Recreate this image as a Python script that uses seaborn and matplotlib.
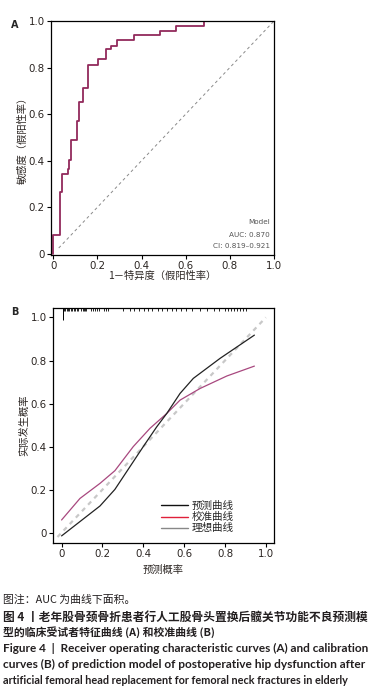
import numpy as np
import pandas as pd
import matplotlib
matplotlib.use("Agg")
import matplotlib.pyplot as plt
from matplotlib.lines import Line2D
import seaborn as sns

# ROC 曲线（阶梯点）
roc_fpr = [0.0, 0.0, 0.033, 0.041, 0.065, 0.073, 0.082, 0.106, 0.116, 0.136, 0.159,
           0.204, 0.239, 0.261, 0.290, 0.366, 0.483, 0.554, 0.683, 1.0]
roc_tpr = [0.0, 0.080, 0.264, 0.345, 0.365, 0.405, 0.489, 0.570, 0.654, 0.714, 0.813,
           0.835, 0.878, 0.894, 0.917, 0.938, 0.955, 0.977, 1.0, 1.0]
auc_text = ["Model", "AUC: 0.870", "CI: 0.819\u20130.921"]

# 校准曲线
pred_x = [0.0, 0.188, 0.261, 0.40, 0.466, 0.515, 0.580, 0.645, 0.776, 0.944]
pred_y = [-0.015, 0.124, 0.201, 0.40, 0.492, 0.554, 0.647, 0.717, 0.810, 0.918]
cal_x = [0.0, 0.09, 0.188, 0.261, 0.351, 0.433, 0.515, 0.580, 0.678, 0.809, 0.944]
cal_y = [0.059, 0.159, 0.229, 0.288, 0.40, 0.485, 0.554, 0.616, 0.670, 0.728, 0.774]
ideal = [-0.02, 1.0]
rug_x = [0.011, 0.018, 0.025, 0.031, 0.038, 0.045, 0.052, 0.060, 0.068, 0.075, 0.082,
         0.095, 0.103, 0.110, 0.117, 0.122, 0.144, 0.155, 0.165, 0.175, 0.183,
         0.210, 0.219, 0.228, 0.300, 0.335, 0.355, 0.380, 0.405, 0.425, 0.445,
         0.470, 0.490, 0.515, 0.540, 0.560, 0.585, 0.610, 0.640, 0.680, 0.710,
         0.745, 0.770, 0.800, 0.815, 0.830, 0.845, 0.860, 0.875, 0.890, 0.905]
legend_labels = ["预测曲线", "校准曲线", "理想曲线"]

ticks = [0, 0.2, 0.4, 0.6, 0.8, 1.0]
tick_labels = ["0", "0.2", "0.4", "0.6", "0.8", "1.0"]

sns.set_theme(style="ticks")
plt.rcParams["font.family"] = ["DejaVu Sans", "Noto Sans CJK SC"]
cjk = ["Noto Sans CJK SC", "DejaVu Sans"]
dark = "#2b2522"

fig = plt.figure(figsize=(3.81, 7.0), dpi=100)

# ---------- A: ROC ----------
axA = fig.add_axes([51 / 381, 1 - 255 / 700, 223 / 381, 234 / 700])
roc = pd.DataFrame({"fpr": roc_fpr, "tpr": roc_tpr})
sns.lineplot(data=roc, x="fpr", y="tpr", estimator=None, sort=False,
             drawstyle="steps-post", color="#922a5c", lw=1.3, ax=axA)
sns.lineplot(x=[0.025, 1.0], y=[0.025, 1.0], estimator=None, color="#8a8a8a",
             lw=0.7, ax=axA).lines[-1].set_dashes([3, 3])
axA.set_xlim(-0.01, 1.0)
axA.set_ylim(-0.005, 1.0)
for i, t in enumerate(auc_text):
    axA.text(0.98, [0.135, 0.082, 0.034][i], t, ha="right", va="center",
             fontsize=5.2, color="#555555")
axA.set_xlabel("1－特异度（假阳性率）", family=cjk, fontsize=7.4, color=dark, labelpad=0)
axA.set_ylabel("敏感度（假阳性率）", family=cjk, fontsize=7.4, color=dark, labelpad=1)
fig.text(15 / 381, 1 - 25 / 700, "A", fontsize=7, fontweight="bold", ha="center", va="center")

# ---------- B: calibration ----------
axB = fig.add_axes([53 / 381, 1 - 543 / 700, 221 / 381, 235 / 700])
sns.lineplot(x=ideal, y=ideal, estimator=None, color="#c8c8c8", lw=1.6,
             ax=axB).lines[-1].set_dashes([2, 2])
sns.lineplot(x=cal_x, y=cal_y, estimator=None, color="#a8487f", lw=0.9, ax=axB)
sns.lineplot(x=pred_x, y=pred_y, estimator=None, color="#222222", lw=0.9, ax=axB)
axB.set_xlim(-0.042, 1.04)
axB.set_ylim(-0.048, 1.044)
axB.vlines(rug_x, 1.044 - 0.016, 1.044, color="black", lw=0.6)
axB.vlines([0.005], 0.988, 1.044, color="black", lw=0.7)
handles = [Line2D([], [], color="#111111", lw=1.0),
           Line2D([], [], color="#e0203a", lw=1.0),
           Line2D([], [], color="#888888", lw=1.0)]
axB.legend(handles, legend_labels, loc="lower right", bbox_to_anchor=(0.86, 0.0),
           frameon=False, prop={"family": cjk, "size": 7.6}, handlelength=2.6,
           handletextpad=0.3, labelspacing=0.12)
axB.set_xlabel("预测概率", family=cjk, fontsize=7.4, color=dark, labelpad=4)
axB.set_ylabel("实际发生概率", family=cjk, fontsize=7.4, color=dark, labelpad=1)
fig.text(15 / 381, 1 - 312 / 700, "B", fontsize=7, fontweight="bold", ha="center", va="center")

for ax in (axA, axB):
    ax.set_xticks(ticks)
    ax.set_xticklabels(tick_labels)
    ax.set_yticks(ticks)
    ax.set_yticklabels(tick_labels)
    ax.tick_params(labelsize=7.4, length=3, width=0.8, pad=1.5, colors="black",
                   labelcolor=dark)
    for s in ax.spines.values():
        s.set_visible(True)
        s.set_linewidth(0.9)
        s.set_color("black")

# ---------- caption ----------
cap_color = "#231f20"
captions = [
    ("图注：AUC 为曲线下面积。", 600, "normal", cjk, None),
    ("图 4 丨老年股骨颈骨折患者行人工股骨头置换后髋关节功能不良预测模", 617, "bold", cjk, 365),
    ("型的临床受试者特征曲线 (A) 和校准曲线 (B)", 632, "bold", cjk, None),
    ("Figure 4  |  Receiver operating characteristic curves (A) and calibration", 648, "bold",
     ["Lato", "DejaVu Sans"], 365),
    ("curves (B) of prediction model of postoperative hip dysfunction after", 664, "bold",
     ["Lato", "DejaVu Sans"], 365),
    ("artificial femoral head replacement for femoral neck fractures in elderly", 680, "bold",
     ["Lato", "DejaVu Sans"], 346),
]
renderer = fig.canvas.get_renderer()
for txt, ypx, wt, fam, width in captions:
    size = 7.8 if fam is cjk else 7.2
    t = fig.text(3 / 381, 1 - ypx / 700, txt, fontsize=size, fontweight=wt, family=fam,
                 color=cap_color, ha="left", va="center")
    if width:
        w = t.get_window_extent(renderer).width
        t.set_fontsize(size * width / w)

fig.savefig("out.png", dpi=100)
